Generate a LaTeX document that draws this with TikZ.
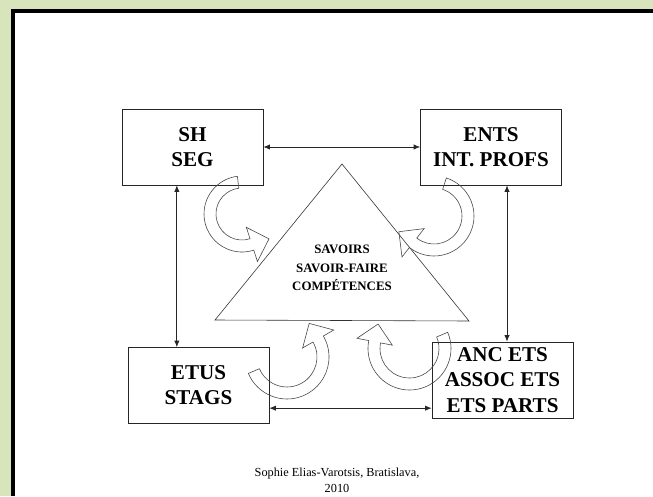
\documentclass[tikz,border=0pt]{standalone}
\usepackage{fontspec}
\setmainfont{Liberation Serif}
\usepackage{tikz}
\usetikzlibrary{positioning, arrows.meta, calc}
\definecolor{slidegreen}{RGB}{216, 228, 188}
\definecolor{linegray}{RGB}{70, 70, 70}

% hollow curved block arrow: centre, radius, start angle, end angle, turn of tip
\newcommand{\bendarrow}[5]{%
  \coordinate (bc) at #1;
  \coordinate (bb) at ($(bc)+(#4:#2)$);
  \coordinate (bt) at ($(bb)!5.4mm!#5:(bc)$);
  \draw[bendline] ($(bc)+(#3:{#2+6})$) arc[start angle=#3, end angle=#4, radius={#2+6}]
    -- ($(bc)+(#4:{#2+18})$) -- (bt) -- ($(bc)+(#4:{#2-18})$)
    -- ($(bc)+(#4:{#2-6})$) arc[start angle=#4, end angle=#3, radius={#2-6}] -- cycle;
}

\begin{document}
\begin{tikzpicture}[x=0.3mm, y=0.3mm,
    actor/.style={draw=black!85, line width=0.7pt, minimum width=4.23cm,
      minimum height=2.28cm, align=center, font=\bfseries\fontsize{18}{21.5}\selectfont},
    link/.style={<->, >={Latex[length=5.5pt, width=4.5pt]}, black!85, line width=0.6pt},
    bendline/.style={draw=linegray, line width=0.5pt}]
  \useasboundingbox (0,0) rectangle (653,-496);
  % slide frame
  \fill[slidegreen] (0,0) rectangle (653,-496);
  \fill[white] (13,-11) rectangle (653,-496);
  \draw[line width=1.2mm] (13,-496) -- (13,-11) -- (653,-11);

  % the four partners
  \node[actor] (sh) at (192.5,-147) {SH\\SEG};
  \node[actor] (ents) at (491,-147) {ENTS\\INT. PROFS};
  \node[actor] (etus) at (198.5,-385.5) {ETUS\\STAGS};
  \node[actor] (anc) at (502.5,-380) {ANC ETS\\ASSOC ETS\\ETS PARTS};

  % links between partners
  \draw[link] (sh.east) -- (ents.west);
  \draw[link] ([xshift=-0.47cm]sh.south) coordinate (lsh) -- (lsh |- etus.north);
  \draw[link] ([xshift=0.48cm]ents.south) coordinate (lents) -- (lents |- anc.north);
  \draw[link] ([yshift=-0.68cm]etus.east) coordinate (letus) -- (anc.west |- letus);

  % central triangle
  \draw[black!80, line width=0.5pt] (342,-164) -- (215,-320) -- (469,-321) -- cycle;
  \node[align=center, font=\bfseries\fontsize{11}{15.8}\selectfont] (know) at (342,-268)
    {SAVOIRS\\SAVOIR-FAIRE\\COMPÉTENCES};

  % curved arrows towards the triangle
  \bendarrow{(242,-214)}{32}{97}{288}{-90}
  \bendarrow{(434,-216)}{34}{72}{-128}{90}
  \bendarrow{(287,-357)}{36}{203}{390}{-90}
  \bendarrow{(409.5,-348.5)}{35.5}{23}{-191}{90}

  \node[align=center, font=\fontsize{10.5}{13.6}\selectfont] (credit) at (337,-480)
    {Sophie Elias-Varotsis, Bratislava,\\2010};
\end{tikzpicture}
\end{document}
